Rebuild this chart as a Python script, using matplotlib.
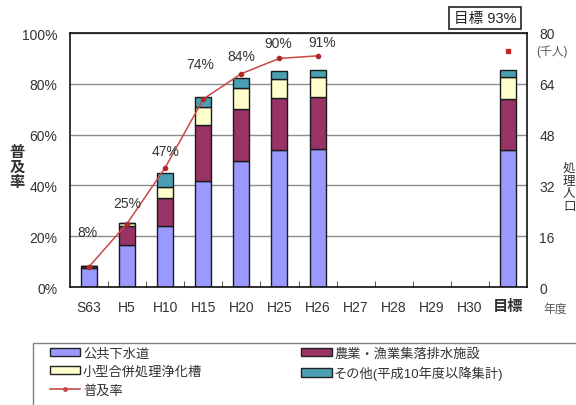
import numpy as np
import matplotlib
matplotlib.use('Agg')
import matplotlib.pyplot as plt
from matplotlib.patches import Patch, Rectangle
from matplotlib.lines import Line2D

plt.rcParams['font.family'] = ['Liberation Sans', 'Noto Sans CJK JP']

years = ['S63', 'H5', 'H10', 'H15', 'H20', 'H25', 'H26', 'H27', 'H28', 'H29', 'H30', '目標']
# 処理人口 (千人)
sewer = [6.0, 13.2, 19.1, 33.5, 39.6, 43.1, 43.4, np.nan, np.nan, np.nan, np.nan, 43.2]
rural = [0.6, 6.0, 8.8, 17.5, 16.6, 16.3, 16.3, np.nan, np.nan, np.nan, np.nan, 16.0]
septic = [0.0, 1.0, 3.7, 5.7, 6.6, 6.1, 6.3, np.nan, np.nan, np.nan, np.nan, 6.9]
other = [0.0, 0.0, 4.4, 3.1, 2.9, 2.6, 2.3, np.nan, np.nan, np.nan, np.nan, 2.3]
# 普及率 (%)
rate = [8, 25, 47, 74, 84, 90, 91]
target_rate = 93

series = [
    ('公共下水道', sewer, '#9999FF'),
    ('農業・漁業集落排水施設', rural, '#993366'),
    ('小型合併処理浄化槽', septic, '#FFFFCC'),
    ('その他(平成10年度以降集計)', other, '#4A9FB5'),
]

fig = plt.figure(figsize=(5.76, 4.06), dpi=100)
ax = fig.add_axes([70 / 576, 118 / 406, 457 / 576, 254 / 406])

x = np.arange(len(years))
bottom = np.zeros(len(years))
for name, vals, col in series:
    vals = np.array(vals, dtype=float)
    ax.bar(x, vals, 0.42, bottom=bottom, color=col, edgecolor='#1a1a1a', linewidth=1, zorder=2)
    bottom = bottom + vals

ax.set_xlim(-0.5, len(years) - 0.5)
ax.set_ylim(0, 80)
ax.set_yticks(np.arange(0, 81, 16))
ax.grid(axis='y', color='#8c8c8c', linewidth=1)
ax.set_axisbelow(True)

ax.set_xticks(x)
ax.set_xticklabels(years)
ax.set_xticks(np.arange(0.5, len(years) - 1, 1), minor=True)
ax.tick_params(axis='x', which='major', length=0, pad=9, labelsize=10, labelcolor='#333333')
ax.tick_params(axis='x', which='minor', direction='in', length=4, color='#333333')
for lab in ax.get_xticklabels():
    if lab.get_text() == '目標':
        lab.set_fontsize(11)
        lab.set_fontweight('bold')

for s in ax.spines.values():
    s.set_linewidth(1.2)
    s.set_color('#111111')

# 普及率は左軸、処理人口は右軸
ax2 = ax.twinx()
ax.yaxis.tick_right()
ax.tick_params(axis='y', length=0, pad=9, labelsize=10, labelcolor='#333333')
ax2.set_ylim(0, 100)
ax2.set_yticks(np.arange(0, 101, 20))
ax2.set_yticklabels([f'{v}%' for v in range(0, 101, 20)])
ax2.yaxis.tick_left()
ax2.tick_params(axis='y', length=0, pad=9, labelsize=10, labelcolor='#333333')
for s in ax2.spines.values():
    s.set_visible(False)

line_col = '#C84848'
ax2.plot(x[:len(rate)], rate, color=line_col, linewidth=1.1, marker='o', markersize=3,
         markerfacecolor='#B02828', markeredgecolor='#B02828', zorder=3)
ax2.plot(x[-1], target_rate, linestyle='none', marker='s', markersize=3.2, color='#C02828')

# 普及率のラベル
offsets = [(-1, 25), (0, 15), (0, 12), (-2, 25), (0, 13), (-1, 11), (3, 10)]
for xi, v, off in zip(x, rate, offsets):
    ax2.annotate(f'{v}%', (xi, v), xytext=off, textcoords='offset points',
                 ha='center', va='center', fontsize=10, color='#333333')

fig.text(485 / 576, 1 - 19 / 406, '目標 93%', ha='center', va='center', fontsize=10.5, color='#222222',
         bbox=dict(boxstyle='square,pad=0.3', facecolor='white', edgecolor='#222222', linewidth=1.2))
fig.text(552 / 576, 1 - 52 / 406, '(千人)', ha='center', va='center', fontsize=8.5, color='#555555')
fig.text(555 / 576, 1 - 310 / 406, '年度', ha='center', va='center', fontsize=8.5, color='#555555')
fig.text(17 / 576, 1 - 168 / 406, '普\n及\n率', ha='center', va='center', fontsize=11,
         fontweight='bold', color='#333333', linespacing=1.1)
fig.text(563 / 576, 1 - 188 / 406, '処\n理\n人\n口', ha='left', va='center', fontsize=9,
         color='#333333', linespacing=1.1)

handles = [
    Patch(facecolor=series[0][2], edgecolor='#222222', linewidth=1),
    Patch(facecolor=series[2][2], edgecolor='#222222', linewidth=1),
    Line2D([0], [0], color=line_col, linewidth=1.2, marker='o', markersize=2.5),
    Patch(facecolor=series[1][2], edgecolor='#222222', linewidth=1),
    Patch(facecolor=series[3][2], edgecolor='#222222', linewidth=1),
]
labels = [series[0][0], series[2][0], '普及率', series[1][0], series[3][0]]
leg = fig.legend(handles, labels, ncol=2, loc='upper left', bbox_to_anchor=(50 / 576, 1 - 348 / 406),
                 frameon=False, fontsize=9.5, handlelength=2.3, handleheight=0.6, handletextpad=0.2,
                 columnspacing=7.5, labelspacing=0.45, borderpad=0, borderaxespad=0)
for t in leg.get_texts():
    t.set_color('#333333')
fig.add_artist(Rectangle((33 / 576, -0.1), 1, (406 - 344) / 406 + 0.1, transform=fig.transFigure,
                         fill=False, edgecolor='#808080', linewidth=1))

fig.savefig('out.png', dpi=100)
